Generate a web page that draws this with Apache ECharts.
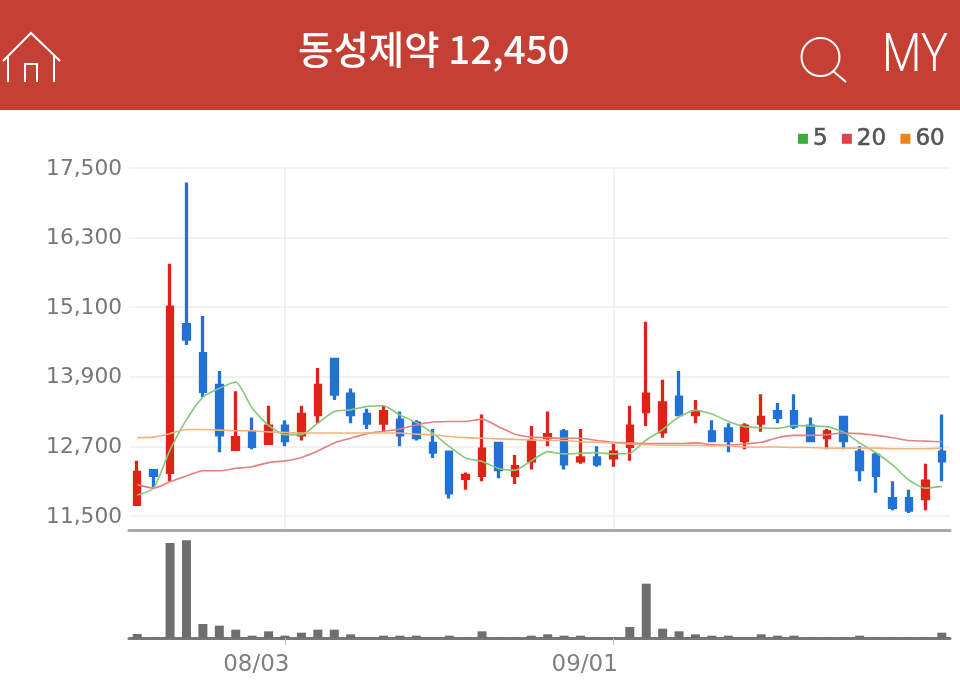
<!DOCTYPE html>
<html>
<head>
    <meta charset="utf-8">
    <title>동성제약</title>
    <script src="https://cdn.jsdelivr.net/npm/echarts@6/dist/echarts.min.js"></script>
    <style>
        html, body { margin: 0; padding: 0; background: #fff; }
        #main { width: 960px; height: 694px; }
    </style>
</head>
<body>
<div id="main"></div>
<script type="text/javascript">
    var categories = [
        '07/21','07/22','07/23','07/24','07/27','07/28','07/29','07/30','07/31','08/03',
        '08/04','08/05','08/06','08/07','08/10','08/11','08/12','08/13','08/14','08/18',
        '08/19','08/20','08/21','08/24','08/25','08/26','08/27','08/28','08/31','09/01',
        '09/02','09/03','09/04','09/07','09/08','09/09','09/10','09/11','09/14','09/15',
        '09/16','09/17','09/18','09/21','09/22','09/23','09/24','09/25','09/28','09/29'
    ];
    var dateLabels = ['08/03', '09/01'];
    var priceTicks = [11500, 12700, 13900, 15100, 16300, 17500];
    // open, close, low, high
    var candles = [
        [11700,12250,11700,12450],[12280,12200,12000,12300],[12250,15100,12100,15850],[14800,14550,14450,17250],
        [14300,13650,13550,14950],[13750,12900,12600,14000],[12650,12850,12650,13650],[12950,12700,12650,13200],
        [12750,13050,12750,13400],[13050,12800,12700,13150],[12900,13250,12800,13400],[13250,13750,13100,14050],
        [14200,13600,13500,14200],[13600,13250,13100,13700],[13250,13100,13000,13350],[13100,13300,12950,13400],
        [13150,12900,12700,13300],[13100,12850,12800,13150],[12750,12600,12500,13000],[12600,11900,11800,12600],
        [12150,12200,11950,12250],[12200,12650,12100,13250],[12750,12300,12150,12750],[12200,12350,12050,12550],
        [12450,12800,12300,13050],[12850,12900,12700,13300],[12950,12400,12300,13000],[12450,12500,12400,13000],
        [12500,12400,12350,12700],[12500,12600,12350,12750],[12700,13050,12450,13400],[13300,13600,13050,14850],
        [12950,13450,12850,13850],[13550,13250,13250,14000],[13250,13300,13100,13500],[12950,12800,12800,13150],
        [13000,12800,12600,13100],[12800,13050,12650,13100],[13100,13200,12950,13600],[13300,13200,13100,13450],
        [13300,13050,13000,13600],[13050,12800,12800,13200],[12850,12950,12650,13000],[13200,12800,12650,13200],
        [12600,12300,12100,12700],[12550,12200,11900,12600],[11800,11650,11600,12100],[11800,11600,11550,11950],
        [11800,12100,11600,12400],[12600,12450,12100,13250]
    ];
    var ma5 = [
        11860,11980,12640,13160,13550,13700,13810,13360,13060,12900,
        12900,13100,13300,13330,13390,13400,13240,13110,12930,12700,
        12500,12440,12320,12290,12450,12610,12570,12580,12590,12570,
        12580,12810,12990,13210,13320,13260,13130,13040,13020,13010,
        13060,13050,13040,12950,12760,12590,12380,12120,11980,12010
    ];
    var ma20 = [
        12040,11980,12090,12190,12280,12280,12320,12350,12420,12450,
        12510,12620,12760,12840,12920,12960,13000,13070,13120,13130,
        13130,13170,13040,12910,12860,12850,12840,12840,12800,12770,
        12760,12750,12750,12750,12760,12730,12720,12740,12770,12850,
        12890,12890,12900,12930,12920,12890,12850,12800,12790,12780
    ];
    var ma60 = [
        12850,12860,12920,12990,12990,12980,12970,12970,12950,12940,
        12930,12930,12930,12930,12930,12930,12930,12910,12900,12870,
        12850,12840,12830,12820,12810,12800,12800,12780,12770,12760,
        12740,12730,12720,12720,12720,12710,12710,12690,12690,12690,
        12680,12680,12670,12670,12670,12670,12660,12660,12660,12670
    ];
    var volumes = [
        12,1,285,293,42,37,25,7,20,7,
        16,25,25,11,1,7,7,7,1,7,
        1,20,1,1,7,11,7,7,1,1,
        33,163,28,20,11,7,7,1,11,7,
        7,1,1,1,7,1,1,1,1,16
    ];

    var chart = echarts.init(document.getElementById('main'));

    function showDate(index, value) {
        return dateLabels.indexOf(value) >= 0;
    }
    function priceLabel(value) {
        return String(value).replace(/(\d)(\d{3})$/, '$1,$2');
    }

    var iconLine = { stroke: '#fff', lineWidth: 2, fill: null };

    var option = {
        animation: false,
        backgroundColor: '#fff',
        title: {
            text: '동성제약 12,450',
            left: 298,
            top: 30,
            padding: 0,
            textStyle: {
                color: '#fff',
                fontFamily: '"Noto Sans CJK KR"',
                fontSize: 38.5,
                fontWeight: 500
            }
        },
        legend: {
            right: 15,
            top: 127,
            padding: 0,
            itemWidth: 10,
            itemHeight: 10,
            itemGap: 14,
            icon: 'rect',
            textStyle: { color: '#555', fontFamily: '"DejaVu Sans"', fontSize: 23, textBorderColor: '#555', textBorderWidth: 0.6 },
            data: [
                { name: '5', itemStyle: { color: '#3aae3a' } },
                { name: '20', itemStyle: { color: '#e5404a' } },
                { name: '60', itemStyle: { color: '#f0861a' } }
            ]
        },
        grid: [
            { left: 129, top: 168, width: 821, height: 362 },
            { left: 129, top: 540, width: 821, height: 98 }
        ],
        xAxis: [
            {
                type: 'category',
                gridIndex: 0,
                data: categories,
                axisLine: { lineStyle: { color: '#a8a8a8', width: 3 } },
                axisTick: { show: false },
                axisLabel: { show: false },
                splitLine: { show: true, alignWithLabel: true, interval: showDate, lineStyle: { color: '#eeeeee', width: 1.5 } }
            },
            {
                type: 'category',
                gridIndex: 1,
                data: categories,
                axisLine: { lineStyle: { color: '#777', width: 3 } },
                axisTick: { show: true, alignWithLabel: true, interval: showDate, length: 7, lineStyle: { color: '#bbb' } },
                axisLabel: {
                    interval: showDate,
                    align: 'right',
                    margin: 16,
                    padding: [0, -4.5, 0, 0],
                    color: '#808080',
                    fontFamily: '"DejaVu Sans"',
                    fontSize: 23
                },
                splitLine: { show: false }
            }
        ],
        yAxis: [
            {
                type: 'value',
                gridIndex: 0,
                min: 11258,
                max: 17500,
                position: 'left',
                axisLine: { show: false },
                axisTick: { show: false, customValues: priceTicks },
                axisLabel: {
                    customValues: priceTicks,
                    formatter: priceLabel,
                    margin: 7,
                    verticalAlign: 'top',
                    padding: [-10, 0, 0, 0],
                    color: '#777',
                    fontFamily: '"DejaVu Sans"',
                    fontSize: 21.7
                },
                splitLine: { show: true, lineStyle: { color: '#eeeeee', width: 1.5 } }
            },
            {
                type: 'value',
                gridIndex: 1,
                min: 0,
                max: 294,
                axisLine: { show: false },
                axisTick: { show: false },
                axisLabel: { show: false },
                splitLine: { show: false }
            }
        ],
        series: [
            {
                name: 'price',
                type: 'candlestick',
                xAxisIndex: 0,
                yAxisIndex: 0,
                data: candles,
                barWidth: 6,
                itemStyle: {
                    color: '#dc2418',
                    color0: '#2272d6',
                    borderColor: '#dc2418',
                    borderColor0: '#2272d6',
                    borderWidth: 3.3
                }
            },
            {
                name: '5',
                type: 'line',
                data: ma5,
                smooth: 0.2,
                showSymbol: false,
                itemStyle: { color: '#3aae3a' },
                lineStyle: { color: '#84c878', width: 1.6 },
                z: 3
            },
            {
                name: '20',
                type: 'line',
                data: ma20,
                smooth: 0.2,
                showSymbol: false,
                itemStyle: { color: '#e5404a' },
                lineStyle: { color: '#e58080', width: 1.6 },
                z: 3
            },
            {
                name: '60',
                type: 'line',
                data: ma60,
                smooth: 0.2,
                showSymbol: false,
                itemStyle: { color: '#f0861a' },
                lineStyle: { color: '#f2b27c', width: 1.6 },
                z: 3
            },
            {
                name: 'volume',
                type: 'bar',
                xAxisIndex: 1,
                yAxisIndex: 1,
                data: volumes,
                barWidth: 9,
                itemStyle: { color: '#6e6e6e' }
            }
        ],
        graphic: [
            { type: 'rect', shape: { x: 0, y: 0, width: 960, height: 110 }, style: { fill: '#c44034' }, z: 0 },
            // home icon
            { type: 'polyline', shape: { points: [[3, 61], [31, 33], [60, 61]] }, style: iconLine, z: 1 },
            { type: 'polyline', shape: { points: [[8, 56], [8, 82]] }, style: iconLine, z: 1 },
            { type: 'polyline', shape: { points: [[54, 56], [54, 82]] }, style: iconLine, z: 1 },
            { type: 'polyline', shape: { points: [[25, 82], [25, 64], [37, 64], [37, 82]] }, style: iconLine, z: 1 },
            // search icon
            { type: 'circle', shape: { cx: 820.5, cy: 57, r: 19 }, style: iconLine, z: 1 },
            { type: 'line', shape: { x1: 833, y1: 71, x2: 846, y2: 82 }, style: { stroke: '#fff', lineWidth: 2 }, z: 1 },
            {
                type: 'text',
                x: 882,
                y: 31,
                scaleX: 0.86,
                z: 1,
                style: { text: 'MY', fill: '#fff', fontFamily: 'Roboto', fontWeight: 300, fontSize: 53 }
            }
        ]
    };
    chart.setOption(option);
</script>
</body>
</html>
